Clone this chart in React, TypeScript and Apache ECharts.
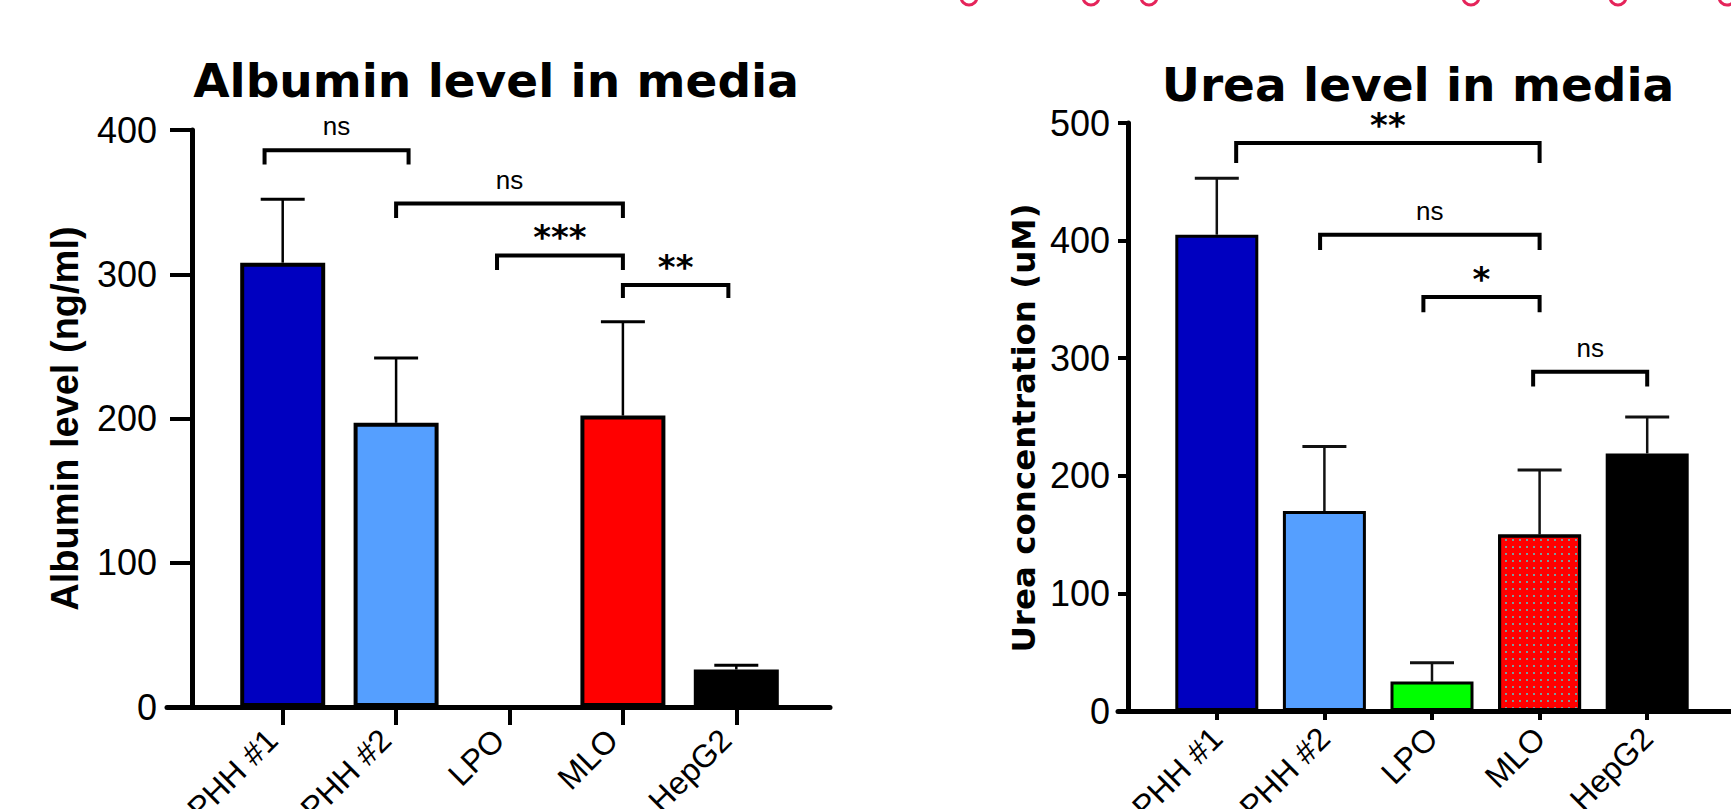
import React, { useEffect, useRef } from "react";
import * as echarts from "echarts";

// ---------- data ----------
const categories = ["PHH #1", "PHH #2", "LPO", "MLO", "HepG2"];
const barColors = ["#0000C0", "#559FFF", "#00FF00", "#FF0000", "#000000"];

const albuminMeans = [308, 197, 0, 202, 26];
const albuminErrTop = [352, 242, 0, 267, 29];
const albuminYTicks = [0, 100, 200, 300, 400];

const ureaMeans = [405, 170, 25, 150, 219];
const ureaErrTop = [453, 225, 41, 205, 250];
const ureaYTicks = [0, 100, 200, 300, 400, 500];

// significance brackets: [fromCategory, fromShift, toCategory, toShift, lineValue, legEndValue]
const albuminBrackets = [
  [0, -0.16, 1, 0.11, 386, 376],
  [1, 0, 3, 0, 349, 339],
  [2, -0.11, 3, 0, 313, 303],
  [3, 0, 4, -0.07, 292.5, 283.5],
];
const albuminBracketLabels = ["ns", "ns", "***", "**"];

const ureaBrackets = [
  [0, 0.18, 3, 0, 483, 466],
  [1, -0.04, 3, 0, 405, 392],
  [2, -0.08, 3, 0, 352, 339],
  [3, -0.06, 4, 0, 288.5, 276],
];
const ureaBracketLabels = ["**", "ns", "*", "ns"];

const headerGlyphX = [969, 1091, 1149, 1471, 1618, 1727];

// ---------- helpers ----------
const SANS = '"Liberation Sans", Arial, sans-serif';
const DEJAVU = '"DejaVu Sans", sans-serif';

function errorBarSeries(gridIdx: number, means: number[], tops: number[], color: string) {
  return {
    type: "custom",
    coordinateSystem: "cartesian2d",
    xAxisIndex: gridIdx,
    yAxisIndex: gridIdx,
    z: 3,
    data: means.map((m, i) => [i, m, tops[i]]),
    renderItem: (params: any, api: any) => {
      const i = api.value(0);
      const m = api.value(1);
      const t = api.value(2);
      if (!(t > m)) return { type: "group", children: [] };
      const base = api.coord([i, m]);
      const top = api.coord([i, t]);
      const hw = 22;
      return {
        type: "group",
        children: [
          {
            type: "line",
            shape: { x1: base[0], y1: base[1], x2: top[0], y2: top[1] },
            style: { stroke: color, lineWidth: 2.5 },
          },
          {
            type: "line",
            shape: { x1: top[0] - hw, y1: top[1], x2: top[0] + hw, y2: top[1] },
            style: { stroke: color, lineWidth: 3 },
          },
        ],
      };
    },
  };
}

function bracketSeries(gridIdx: number, brackets: number[][], labels: string[]) {
  return {
    type: "custom",
    coordinateSystem: "cartesian2d",
    xAxisIndex: gridIdx,
    yAxisIndex: gridIdx,
    z: 4,
    data: brackets,
    renderItem: (params: any, api: any) => {
      const band = api.size([1, 0])[0];
      const y = api.value(4);
      const p1 = api.coord([api.value(0), y]);
      const p2 = api.coord([api.value(2), y]);
      const legY = api.coord([api.value(0), api.value(5)])[1];
      const x1 = p1[0] + api.value(1) * band;
      const x2 = p2[0] + api.value(3) * band;
      const label = labels[params.dataIndex];
      const isNs = label === "ns";
      return {
        type: "group",
        children: [
          {
            type: "polyline",
            shape: { points: [[x1, legY], [x1, p1[1]], [x2, p1[1]], [x2, legY]] },
            style: { stroke: "#000", lineWidth: 4, fill: null, lineJoin: "miter" },
          },
          {
            type: "text",
            x: (x1 + x2) / 2,
            y: p1[1] - (isNs ? 24 : 18),
            style: {
              text: label,
              fill: "#000",
              fontSize: isNs ? 26 : 34,
              fontWeight: isNs ? "normal" : "bold",
              fontFamily: isNs ? SANS : DEJAVU,
              lineHeight: isNs ? 26 : 26,
              align: "center",
              verticalAlign: "middle",
              textAlign: "center",
              textVerticalAlign: "middle",
            },
          },
        ],
      };
    },
  };
}

function barSeries(gridIdx: number, means: number[], barWidth: number, borderWidth: number, patternIndex: number) {
  return {
    type: "bar",
    xAxisIndex: gridIdx,
    yAxisIndex: gridIdx,
    barWidth,
    data: means.map((v, i) => ({
      value: v,
      itemStyle: {
        color: barColors[i],
        borderColor: "#000",
        borderWidth,
        decal:
          i === patternIndex
            ? {
                symbol: "rect",
                symbolSize: 1,
                dashArrayX: [2, 4.5],
                dashArrayY: [1.5, 5],
                color: "#7a9c9c",
              }
            : undefined,
      },
    })),
  };
}

function categoryAxis(gridIdx: number, tickLen: number, margin: number, padRight: number) {
  return {
    type: "category",
    gridIndex: gridIdx,
    data: categories,
    axisLine: { show: false },
    axisTick: { show: true, alignWithLabel: true, length: tickLen, lineStyle: { color: "#000", width: 4 } },
    axisLabel: {
      rotate: 45,
      interval: 0,
      fontSize: 32,
      fontFamily: SANS,
      color: "#000",
      margin,
      padding: [0, padRight, 0, 0],
    },
    splitLine: { show: false },
  };
}

function valueAxis(
  gridIdx: number,
  ticks: number[],
  name: string,
  offset: number,
  tickLen: number,
  labelMargin: number,
  nameGap: number,
  nameFont: any
) {
  return {
    type: "value",
    gridIndex: gridIdx,
    min: ticks[0],
    max: ticks[ticks.length - 1],
    interval: ticks[1] - ticks[0],
    offset,
    name,
    nameLocation: "middle",
    nameGap,
    nameTextStyle: nameFont,
    axisLine: { show: true, lineStyle: { color: "#000", width: 5 } },
    axisTick: { show: true, length: tickLen, lineStyle: { color: "#000", width: 4 } },
    axisLabel: { fontSize: 36, fontFamily: SANS, color: "#000", margin: labelMargin },
    splitLine: { show: false },
  };
}

function baseLineAxes(gridIdx: number) {
  return {
    x: {
      type: "value",
      gridIndex: gridIdx,
      min: 0,
      max: 1,
      axisLine: { show: true, onZero: false, lineStyle: { color: "#000", width: 5 } },
      axisTick: { show: false },
      axisLabel: { show: false },
      splitLine: { show: false },
    },
    y: { type: "value", gridIndex: gridIdx, min: 0, max: 1, show: false },
  };
}

export default function App() {
  const ref = useRef<HTMLDivElement>(null);
  useEffect(() => {
    if (!ref.current) return;
    const chart = echarts.init(ref.current, null, { renderer: "svg" });
    const lb = baseLineAxes(1);
    const rb = baseLineAxes(3);
    const gridBase = { outerBoundsMode: "none", containLabel: false };
    chart.setOption({
      animation: false,
      backgroundColor: "#fff",
      title: [
        {
          text: "Albumin level in media",
          left: 496,
          top: 60,
          padding: 0,
          textAlign: "center",
          textStyle: { fontFamily: DEJAVU, fontWeight: "bold", fontSize: 47, lineHeight: 40, color: "#000" },
        },
        {
          text: "Urea level in media",
          left: 1418,
          top: 64,
          padding: 0,
          textAlign: "center",
          textStyle: { fontFamily: DEJAVU, fontWeight: "bold", fontSize: 47, lineHeight: 40, color: "#000" },
        },
      ],
      grid: [
        { ...gridBase, left: 226, top: 130, width: 567, height: 577 },
        { ...gridBase, left: 167, top: 130, width: 663, height: 577 },
        { ...gridBase, left: 1163, top: 123, width: 538, height: 588 },
        { ...gridBase, left: 1118, top: 123, width: 700, height: 588 },
      ],
      xAxis: [categoryAxis(0, 18, 17, 15), lb.x, categoryAxis(2, 9, 22, 0), rb.x],
      yAxis: [
        valueAxis(0, albuminYTicks, "Albumin level (ng/ml)", 34, 22, 35, 108, {
          fontFamily: SANS,
          fontWeight: "bold",
          fontSize: 38,
          color: "#000",
        }),
        lb.y,
        valueAxis(2, ureaYTicks, "Urea concentration (uM)", 35, 10, 18, 88, {
          fontFamily: DEJAVU,
          fontWeight: "bold",
          fontSize: 32.5,
          color: "#000",
          padding: [0, 22, 0, 0],
        }),
        rb.y,
      ],
      series: [
        barSeries(0, albuminMeans, 85, 4, -1),
        errorBarSeries(0, albuminMeans, albuminErrTop, "#000"),
        bracketSeries(0, albuminBrackets, albuminBracketLabels),
        barSeries(2, ureaMeans, 83, 3, 3),
        errorBarSeries(2, ureaMeans, ureaErrTop, "#111"),
        bracketSeries(2, ureaBrackets, ureaBracketLabels),
      ],
      graphic: headerGlyphX.map((x) => ({
        type: "arc",
        shape: { cx: x, cy: -3, r: 8, startAngle: 0, endAngle: Math.PI },
        style: { stroke: "#e5245a", lineWidth: 3, fill: null },
      })),
    });
    return () => chart.dispose();
  }, []);
  return (
    <div
      ref={ref}
      style={{ position: "fixed", left: 0, top: 0, width: 1731, height: 809, background: "#fff" }}
    />
  );
}
